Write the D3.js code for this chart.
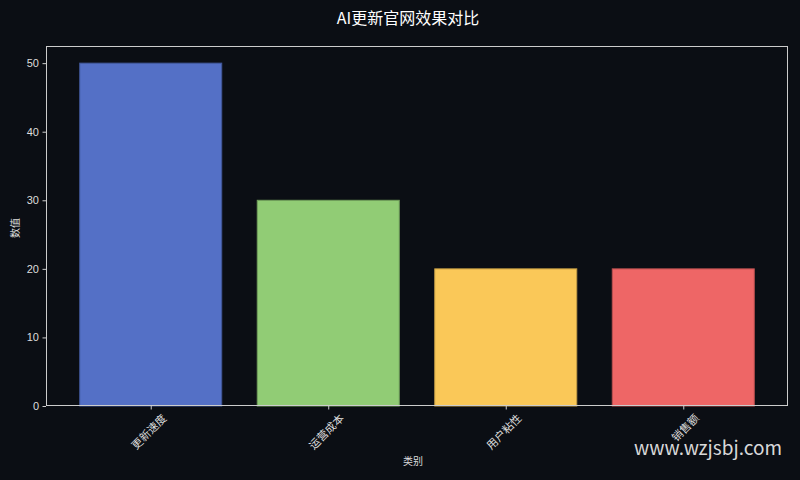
<!DOCTYPE html>
<html><head><meta charset="utf-8">
<script src="https://cdn.jsdelivr.net/npm/d3@7"></script>
<style>
html,body{margin:0;padding:0;background:#0b0e14;}
svg{display:block;}
text{font-family:"Noto Sans CJK SC","Noto Sans",sans-serif;}
.yax text{font-family:"Liberation Sans","DejaVu Sans",sans-serif;}
</style></head>
<body>
<svg id="c" width="800" height="480"></svg>
<script>
const categories = ["更新速度", "运营成本", "用户粘性", "销售额"];
const values = [50, 30, 20, 20];
const barColors = ["#5470c6", "#91cc75", "#fac858", "#ee6666"];
const yTicks = [0, 10, 20, 30, 40, 50];
const title = "AI更新官网效果对比";
const xLabel = "类别";
const yLabel = "数值";
const watermark = "www.wzjsbj.com";

const W = 800, H = 480;
const m = {left: 46, right: 12, top: 46, bottom: 74};
const svg = d3.select("#c");
svg.append("rect").attr("width", W).attr("height", H).attr("fill", "#0b0e14");

const x = d3.scaleLinear().domain([-0.59, 3.59]).range([m.left, W - m.right]);
const y = d3.scaleLinear().domain([0, 52.5]).range([H - m.bottom, m.top]);
const bw = 0.8;

const g = svg.append("g");
g.selectAll("rect.bar").data(values).enter().append("rect")
  .attr("class", "bar")
  .attr("x", (d, i) => x(i - bw / 2))
  .attr("width", (d, i) => x(i + bw / 2) - x(i - bw / 2))
  .attr("y", d => y(d))
  .attr("height", d => y(0) - y(d))
  .attr("fill", (d, i) => barColors[i])
  .attr("stroke", (d, i) => d3.color(barColors[i]).darker(0.7))
  .attr("stroke-width", 1);

// frame
svg.append("rect")
  .attr("x", m.left + 0.5).attr("y", m.top + 0.5)
  .attr("width", W - m.right - m.left - 1).attr("height", H - m.bottom - m.top - 1)
  .attr("fill", "none").attr("stroke", "#cccccc").attr("stroke-width", 1);

// y axis
const yAxis = svg.append("g").attr("class", "yax").attr("transform", `translate(${m.left},0)`)
  .call(d3.axisLeft(y).tickValues(yTicks).tickSize(3.5).tickPadding(3.5));
yAxis.select(".domain").remove();
yAxis.selectAll("line").attr("stroke", "#cccccc");
yAxis.selectAll("text").attr("fill", "#dddddd").attr("font-size", 11);

// x axis
const xAxis = svg.append("g").attr("transform", `translate(0,${H - m.bottom})`)
  .call(d3.axisBottom(x).tickValues(d3.range(categories.length)).tickFormat(i => categories[i]).tickSize(3.5).tickPadding(3));
xAxis.select(".domain").remove();
xAxis.selectAll("line").attr("stroke", "#cccccc");
xAxis.selectAll("text").attr("fill", "#dddddd").attr("font-size", 11)
  .attr("text-anchor", "end")
  .attr("dy", "0.7em")
  .attr("transform", "translate(6,3) rotate(-45)");

// title
svg.append("text").attr("x", 408).attr("y", 24).attr("text-anchor", "middle")
  .attr("fill", "#ffffff").attr("font-size", 16).text(title);

// axis labels
svg.append("text").attr("x", 413).attr("y", 465).attr("text-anchor", "middle")
  .attr("fill", "#dddddd").attr("font-size", 10).text(xLabel);
svg.append("text").attr("transform", "translate(19,228) rotate(-90)").attr("text-anchor", "middle")
  .attr("fill", "#dddddd").attr("font-size", 10).text(yLabel);

// watermark
svg.append("text").attr("x", 634).attr("y", 455)
  .attr("fill", "#ffffff").attr("fill-opacity", 0.85).attr("font-size", 19)
  .attr("font-family", "'Open Sans','Noto Sans',sans-serif").text(watermark);
</script>
</body></html>
